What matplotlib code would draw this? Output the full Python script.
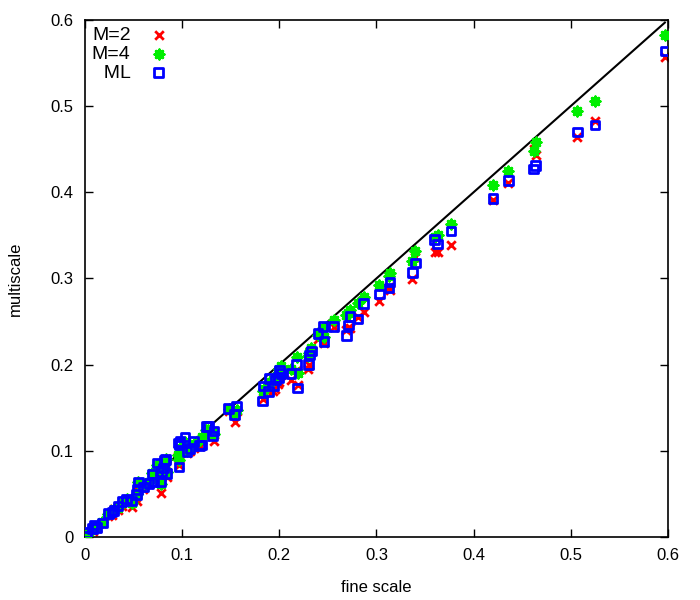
import matplotlib
matplotlib.use("Agg")
import matplotlib.pyplot as plt
import numpy as np

plt.rcParams["font.family"] = ["Liberation Sans", "DejaVu Sans"]

# fine-scale value and multiscale estimates (M=2, M=4, ML)
fine = [0.597, 0.525, 0.507, 0.464, 0.462, 0.436, 0.420, 0.377, 0.363, 0.360,
        0.340, 0.337, 0.314, 0.313, 0.303, 0.287, 0.281, 0.273, 0.271, 0.269,
        0.256, 0.245, 0.246, 0.240, 0.233, 0.231, 0.230, 0.218, 0.219, 0.212,
        0.202, 0.200, 0.199, 0.196, 0.190, 0.189, 0.194, 0.184, 0.183, 0.156,
        0.154, 0.148, 0.133, 0.131, 0.127, 0.125, 0.120, 0.118, 0.112, 0.108,
        0.105, 0.103, 0.098, 0.097, 0.097, 0.096, 0.083, 0.082, 0.081, 0.079,
        0.084, 0.078, 0.074, 0.071, 0.069, 0.066, 0.060, 0.055, 0.054, 0.053,
        0.048, 0.043, 0.038, 0.034, 0.030, 0.028, 0.024, 0.018, 0.012, 0.010,
        0.008, 0.002, 0.002]
m2 = [0.557, 0.483, 0.464, 0.443, 0.450, 0.411, 0.391, 0.339, 0.331, 0.331,
      0.325, 0.299, 0.287, 0.290, 0.274, 0.261, 0.255, 0.242, 0.243, 0.240,
      0.244, 0.240, 0.225, 0.230, 0.215, 0.200, 0.195, 0.194, 0.176, 0.182,
      0.188, 0.180, 0.178, 0.172, 0.175, 0.169, 0.169, 0.167, 0.160, 0.146,
      0.134, 0.146, 0.111, 0.117, 0.121, 0.120, 0.113, 0.106, 0.103, 0.100,
      0.097, 0.105, 0.102, 0.090, 0.083, 0.101, 0.091, 0.085, 0.078, 0.071,
      0.070, 0.051, 0.081, 0.066, 0.072, 0.062, 0.056, 0.060, 0.042, 0.046,
      0.035, 0.040, 0.036, 0.031, 0.033, 0.026, 0.024, 0.016, 0.011, 0.013,
      0.007, 0.003, 0.001]
m4 = [0.582, 0.506, 0.494, 0.458, 0.448, 0.425, 0.408, 0.363, 0.350, 0.348,
      0.332, 0.320, 0.306, 0.303, 0.292, 0.278, 0.272, 0.263, 0.260, 0.258,
      0.252, 0.242, 0.232, 0.235, 0.219, 0.214, 0.210, 0.209, 0.190, 0.195,
      0.198, 0.195, 0.190, 0.185, 0.180, 0.177, 0.182, 0.172, 0.170, 0.147,
      0.144, 0.148, 0.120, 0.122, 0.124, 0.124, 0.116, 0.112, 0.108, 0.105,
      0.100, 0.110, 0.103, 0.095, 0.089, 0.095, 0.090, 0.088, 0.080, 0.074,
      0.075, 0.062, 0.084, 0.070, 0.074, 0.064, 0.060, 0.064, 0.050, 0.048,
      0.040, 0.044, 0.039, 0.034, 0.032, 0.029, 0.027, 0.017, 0.012, 0.012,
      0.009, 0.004, 0.002]
ml = [0.564, 0.478, 0.470, 0.431, 0.427, 0.414, 0.393, 0.355, 0.340, 0.345,
      0.318, 0.307, 0.296, 0.289, 0.282, 0.271, 0.253, 0.256, 0.246, 0.234,
      0.244, 0.244, 0.227, 0.236, 0.216, 0.211, 0.200, 0.200, 0.173, 0.190,
      0.190, 0.193, 0.185, 0.182, 0.184, 0.169, 0.175, 0.175, 0.158, 0.152,
      0.142, 0.149, 0.123, 0.117, 0.128, 0.128, 0.107, 0.106, 0.111, 0.103,
      0.099, 0.116, 0.111, 0.107, 0.081, 0.109, 0.090, 0.089, 0.080, 0.076,
      0.074, 0.064, 0.086, 0.064, 0.073, 0.062, 0.058, 0.064, 0.055, 0.049,
      0.042, 0.044, 0.041, 0.036, 0.031, 0.029, 0.027, 0.016, 0.011, 0.014,
      0.010, 0.005, 0.001]

ticks = [0, 0.1, 0.2, 0.3, 0.4, 0.5, 0.6]
tick_labels = ["0", "0.1", "0.2", "0.3", "0.4", "0.5", "0.6"]

fig = plt.figure(figsize=(7, 6), dpi=100)
ax = fig.add_axes([0.1214, 0.105, 0.8326, 0.8617])

# reference line: fine scale against itself
line_x = np.sort(np.array([0.0] + fine))
ax.plot(line_x, line_x, color="black", linewidth=1.5, zorder=1)

ax.scatter(fine, m2, marker="x", s=38, color="#ff0000", linewidths=2, label="M=2", zorder=2)
ax.scatter(fine, m4, marker=(8, 2, 0), s=42, color="#00ee00", linewidths=2.2, label="M=4", zorder=3)
ax.scatter(fine, ml, marker="s", s=38, facecolors="none", edgecolors="#0000ff",
           linewidths=2, label="  ML", zorder=4)

ax.set_xlim(0, 0.6)
ax.set_ylim(0, 0.6)
ax.set_xticks(ticks)
ax.set_xticklabels(tick_labels)
ax.set_yticks(ticks)
ax.set_yticklabels(tick_labels)
ax.tick_params(direction="in", length=6, width=1, top=True, right=True,
               labelsize=12, pad=8)
for spine in ax.spines.values():
    spine.set_linewidth(1.2)

ax.set_xlabel("fine scale", fontsize=12, labelpad=12)
ax.set_ylabel("multiscale", fontsize=12, labelpad=20)

ax.legend(loc="upper left", markerfirst=False, frameon=False, fontsize=14,
          handletextpad=0.95, labelspacing=0.05, borderaxespad=0.1,
          borderpad=0.25, handlelength=1.0)

fig.savefig("out.png", dpi=100)
